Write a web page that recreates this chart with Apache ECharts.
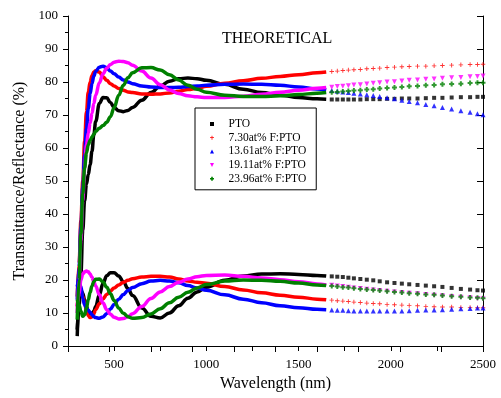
<!DOCTYPE html>
<html>
<head>
<meta charset="UTF-8">
<title>Theoretical T/R</title>
<script src="https://cdn.jsdelivr.net/npm/echarts@6/dist/echarts.min.js"></script>
<style>
  html, body { margin: 0; padding: 0; background: #fff; }
  #chart { width: 501px; height: 398px; }
</style>
</head>
<body>
<div id="chart"></div>
<script>
// wavelengths (nm): dense part drawn as thick lines, tail drawn as markers
var wl = [300,310,320,330,340,350,360,370,380,390,400,420,440,460,480,500,525,550,575,600,650,700,750,800,850,900,950,1000,1100,1200,1300,1400,1500,1600,1650];
var wlTail = [1680,1710,1740,1770,1800,1835,1870,1905,1940,1980,2020,2060,2100,2145,2190,2235,2280,2330,2380,2430,2470,2500];

// upper curves (transmittance)
var ptoT   = [5,12,22,35,44,49,52,55,59,64,68,73.5,75.3,75.2,73.8,72.3,71.3,71,71.4,72.3,74.5,76.8,78.8,80.2,81,81.2,81,80.5,79.3,77.8,76.8,76,75.3,74.9,74.8];
var f730T  = [15,25,38,50,62,71,77,80,82,83,83.4,83,81.6,80.5,79.5,78.8,78,77.5,77,76.8,76.4,76.3,76.4,76.7,77.2,77.7,78.1,78.7,79.6,80.4,81.1,81.7,82.2,82.8,83];
var f1361T = [14,24,36,48,58,66,72,76.5,79.5,81.8,83.2,84.5,84.8,84.3,83.3,82.5,81.5,80.6,80,79.5,78.8,78.5,78.3,78.3,78.4,78.6,78.8,79,79.3,79.4,79.3,79,78.5,77.9,77.6];
var f1911T = [10,20,32,44,54,61,64.5,67.5,70.5,73.5,76,79.8,82.5,84.2,85.3,86,86.3,86.2,85.8,85.1,83.3,81.2,79.2,77.6,76.5,75.8,75.5,75.3,75.3,75.7,76.3,76.9,77.5,78.1,78.3];
var f2396T = [8,20,34,46,54,58.5,61,62.3,63.3,64.2,65,66,66.8,67.8,69.5,72.2,76,79,81.3,82.8,84.3,84.4,83.6,82.2,80.6,79,77.8,76.9,76,75.6,75.6,75.8,76.2,76.6,76.8];

// lower curves (reflectance)
var ptoR   = [3,14,17,16,14,12,10.5,9.8,9.8,10.5,12,15.5,19,21.3,22.2,22.2,21.2,19.5,17.4,15.3,11.5,9,8.5,10,12.2,14.5,16.4,17.8,19.9,21.2,21.8,21.9,21.7,21.4,21.2];
var f730R  = [12,16,16.5,15,13,10.8,9.2,8.6,8.8,9.8,11,12.8,14.3,15.6,16.7,17.6,18.5,19.3,19.9,20.4,20.9,21.1,21.1,20.9,20.3,19.7,19.3,19,18,17,16.1,15.4,14.8,14.2,14];
var f1361R = [18,20,18,14.5,12.5,11.5,10.8,10.2,9.5,8.9,8.6,8.4,8.8,9.8,11.2,12.6,14.2,15.6,16.8,17.7,18.9,19.7,19.9,19.7,19.2,18.3,17.6,16.9,15.5,14.2,13.1,12.2,11.6,11.1,11];
var f1911R = [12,16,20,21.8,22.5,22.7,22.5,21.8,20.8,19.5,18.2,15.5,13,11,9.6,8.7,8.2,8.3,8.9,9.8,12,14.4,16.4,18,19.3,20.3,21,21.4,21.5,21.1,20.6,20.1,19.5,18.8,18.5];
var f2396R = [14,12.5,10.5,9,9.5,11.5,14,16.3,18.2,19.5,20.2,20.3,19.4,17.8,15.8,13.8,11.5,9.9,8.9,8.4,8.6,9.7,11.3,13.1,14.8,16.3,17.6,18.6,19.7,20,19.9,19.6,19.1,18.5,18.3];

// tails (markers)
var ptoTt   = [74.7,74.7,74.7,74.7,74.7,74.7,74.8,74.8,74.8,74.9,74.9,75,75,75,75.1,75.2,75.2,75.3,75.4,75.4,75.5,75.5];
var f730Tt  = [83.2,83.3,83.5,83.6,83.7,83.8,84,84.1,84.2,84.4,84.5,84.6,84.7,84.8,84.8,84.9,85,85.1,85.2,85.3,85.3,85.4];
var f1361Tt = [77.4,77.2,77,76.8,76.6,76.4,76.1,75.9,75.6,75.2,74.9,74.5,74.1,73.7,73.2,72.8,72.3,71.8,71.3,70.8,70.4,70.1];
var f1911Tt = [78.4,78.6,78.7,78.9,79.1,79.2,79.4,79.6,79.8,80,80.1,80.3,80.5,80.6,80.8,80.9,81.1,81.3,81.4,81.6,81.7,81.8];
var f2396Tt = [76.9,77,77.1,77.3,77.4,77.5,77.7,77.8,78,78.2,78.3,78.5,78.7,78.8,79,79.1,79.3,79.4,79.5,79.7,79.8,79.8];
var ptoRt   = [21.1,21,20.9,20.7,20.5,20.3,20.1,19.9,19.6,19.3,19.1,18.9,18.7,18.5,18.3,18.1,17.9,17.6,17.3,17.1,16.9,16.8];
var f730Rt  = [13.9,13.7,13.6,13.5,13.3,13.2,13,12.9,12.8,12.6,12.5,12.4,12.3,12.2,12,11.9,11.8,11.8,11.7,11.7,11.6,11.6];
var f1361Rt = [10.9,10.8,10.8,10.7,10.6,10.6,10.6,10.6,10.6,10.6,10.6,10.6,10.7,10.8,10.9,10.9,11,11.1,11.3,11.4,11.5,11.5];
var f1911Rt = [18.4,18.2,18,17.8,17.6,17.4,17.2,17,16.8,16.6,16.4,16.2,16,15.8,15.6,15.4,15.2,15,14.8,14.6,14.4,14.3];
var f2396Rt = [18.2,18,17.8,17.7,17.5,17.3,17.1,17,16.8,16.6,16.4,16.2,16,15.8,15.6,15.5,15.3,15.1,14.9,14.7,14.6,14.5];

var names = ['PTO', '7.30at% F:PTO', '13.61at% F:PTO', '19.11at% F:PTO', '23.96at% F:PTO'];
var colors = ['#000000', '#ff0000', '#0000ff', '#ff00ff', '#008000'];
var icons = [
  'path://M0,0h10v10h-10z',
  'path://M4,0h2v4h4v2h-4v4h-2v-4h-4v-2h4z',
  'path://M5,0L10,10L0,10Z',
  'path://M0,0L10,0L5,10Z',
  'path://M3,0h4v3h3v4h-3v3h-4v-3h-3v-4h3z'
];
var sizes = [4, 4.5, 5, 5, 5];
var upper = [ptoT, f730T, f1361T, f1911T, f2396T];
var lower = [ptoR, f730R, f1361R, f1911R, f2396R];
var upperTail = [ptoTt, f730Tt, f1361Tt, f1911Tt, f2396Tt];
var lowerTail = [ptoRt, f730Rt, f1361Rt, f1911Rt, f2396Rt];

function pairs(xs, ys) {
  return xs.map(function (x, i) { return [x, ys[i]]; });
}

var serif = 'Liberation Serif, Times New Roman, serif';
var series = [];
for (var i = 0; i < names.length; i++) {
  [upper[i], lower[i]].forEach(function (ys) {
    series.push({
      name: names[i], type: 'line', data: pairs(wl, ys),
      smooth: 0.4, smoothMonotone: 'x', showSymbol: false,
      lineStyle: { color: colors[i], width: 3.5 }, itemStyle: { color: colors[i] },
      z: 2 + i
    });
  });
  [upperTail[i], lowerTail[i]].forEach(function (ys) {
    series.push({
      name: names[i], type: 'scatter', data: pairs(wlTail, ys),
      symbol: icons[i], symbolSize: sizes[i],
      itemStyle: { color: colors[i] }, z: 2 + i
    });
  });
}

var chart = echarts.init(document.getElementById('chart'));
chart.setOption({
  backgroundColor: '#fff',
  animation: false,
  title: {
    text: 'THEORETICAL', left: 222, top: 31, padding: 0,
    textStyle: { fontFamily: serif, fontSize: 16, fontWeight: 'normal', color: '#000' }
  },
  legend: {
    orient: 'vertical', left: 195, top: 108,
    padding: [10, 10, 5, 15],
    borderColor: '#000', borderWidth: 1,
    itemWidth: 23, itemHeight: 4, itemGap: 1.7,
    textStyle: { fontFamily: serif, fontSize: 11.5, lineHeight: 12, color: '#000' },
    data: names.map(function (n, i) {
      return { name: n, icon: icons[i], itemStyle: { color: colors[i] } };
    })
  },
  grid: { left: 68, right: 18, top: 16, bottom: 52 },
  xAxis: [{
    type: 'value', position: 'bottom', min: 250, max: 2500, interval: 250,
    name: 'Wavelength (nm)', nameLocation: 'middle', nameGap: 29,
    nameTextStyle: { fontFamily: serif, fontSize: 16, color: '#000' },
    axisLine: { lineStyle: { color: '#000', width: 1 } },
    axisTick: { inside: false, length: 5, lineStyle: { color: '#000' } },
    axisLabel: {
      margin: 12, fontFamily: serif, fontSize: 13, color: '#000',
      formatter: function (v) { return (v % 500 === 0) ? String(v) : ''; }
    },
    splitLine: { show: false }
  }, {
    type: 'value', position: 'top', min: 0, max: 10, interval: 1,
    axisLine: { show: true, lineStyle: { color: '#000', width: 1 } },
    axisTick: { inside: true, length: 6, lineStyle: { color: '#000' } },
    axisLabel: { show: false }, splitLine: { show: false }
  }],
  yAxis: [{
    type: 'value', position: 'left', min: 0, max: 100, interval: 10,
    name: 'Transmittance/Reflectance (%)', nameLocation: 'middle', nameGap: 37,
    nameTextStyle: { fontFamily: serif, fontSize: 16, color: '#000' },
    axisLine: { show: true, lineStyle: { color: '#000', width: 1 } },
    axisTick: { inside: false, length: 5, lineStyle: { color: '#000' } },
    minorTick: { show: true, splitNumber: 2, length: 3, lineStyle: { color: '#000' } },
    axisLabel: { margin: 10, fontFamily: serif, fontSize: 13, color: '#000' },
    splitLine: { show: false }
  }, {
    type: 'value', position: 'right', min: 0, max: 100, interval: 10,
    axisLine: { show: true, lineStyle: { color: '#000', width: 1 } },
    axisTick: { inside: true, length: 6, lineStyle: { color: '#000' } },
    axisLabel: { show: false }, splitLine: { show: false }
  }],
  series: series
});
</script>
</body>
</html>
